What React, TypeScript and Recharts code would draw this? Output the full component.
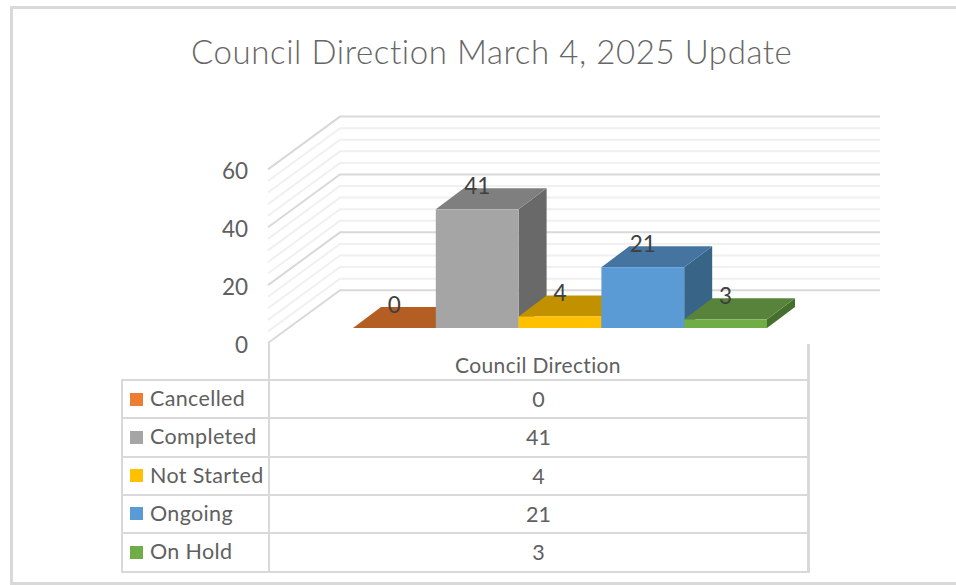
import { BarChart, Bar, XAxis, YAxis, CartesianGrid, LabelList } from 'recharts';

const category = 'Council Direction';
const seriesNames = ['Cancelled', 'Completed', 'Not Started', 'Ongoing', 'On Hold'];
const seriesValues = [0, 41, 4, 21, 3];
const frontColors = ['#ed7d31', '#a5a5a5', '#ffc000', '#5b9bd5', '#70ad47'];
const topColors = ['#b55e23', '#7f7f7f', '#c19100', '#44749f', '#57833a'];
const sideColors = ['#8f4a1c', '#696969', '#9c7600', '#386488', '#466f2e'];
const gridTicks = [0, 4, 8, 12, 16, 20, 24, 28, 32, 36, 40, 44, 48, 52, 56, 60];
const labelledTicks = [0, 20, 40, 60];

const chartData = [
  Object.fromEntries([['category', category], ...seriesNames.map((n, i) => [n, seriesValues[i]])]),
];

const FONT = 'Lato, sans-serif';
const TEXT = '#606060';
const LINE = '#d9d9d9';

// fake 3D: floor depth of the walls and of the bars
const WALL_DX = 71;
const WALL_DY = 52.8;
const BACK_RIGHT = 880;
const BAR_DX = 28;
const BAR_DY = 21;
const BAR_LIFT = 15;
const AXIS_X = 269;

function WallLine(props: any) {
  const { y1, index } = props;
  const major = index % 5 === 0;
  const backX = AXIS_X + WALL_DX;
  const backY = y1 - WALL_DY;
  return (
    <polyline
      key={index}
      points={`${AXIS_X - 1},${y1} ${backX},${backY} ${BACK_RIGHT},${backY}`}
      fill="none"
      stroke={major ? LINE : '#f0f0f0'}
      strokeWidth={2}
    />
  );
}

function ValueTick(props: any) {
  const { x, y, payload } = props;
  if (!labelledTicks.includes(payload.value)) return <g />;
  return (
    <text x={x - 21} y={y + 10} textAnchor="end" fontFamily={FONT} fontSize={22.5} fill={TEXT}>
      {payload.value}
    </text>
  );
}

function CategoryTick(props: any) {
  return (
    <text
      x={props.x - 22}
      y={373}
      textAnchor="middle"
      fontFamily={FONT}
      fontSize={21}
      letterSpacing={0.35}
      fill={TEXT}
    >
      {props.payload.value}
    </text>
  );
}

function Box3D(props: any) {
  const { x, y, width, height, top, side, fill } = props;
  const t = y - BAR_LIFT;
  const h = Math.max(height, 0);
  const r = x + width;
  return (
    <g>
      <polygon
        points={`${r},${t} ${r + BAR_DX},${t - BAR_DY} ${r + BAR_DX},${t + h - BAR_DY} ${r},${t + h}`}
        fill={side}
      />
      <polygon
        points={`${x},${t} ${r},${t} ${r + BAR_DX},${t - BAR_DY} ${x + BAR_DX},${t - BAR_DY}`}
        fill={top}
      />
      <rect x={x} y={t} width={width} height={h} fill={fill} />
    </g>
  );
}

function DataTable() {
  const rowH = 38.3;
  const cell = { position: 'absolute' as const, fontFamily: FONT, fontSize: 21.5, color: TEXT, whiteSpace: 'nowrap' as const };
  const rule = { position: 'absolute' as const, background: LINE };
  return (
    <>
      <div style={{ ...rule, left: 268, top: 343, width: 2, height: 229 }} />
      <div style={{ ...rule, left: 807, top: 344, width: 2.5, height: 229 }} />
      <div style={{ ...rule, left: 121, top: 380, width: 2, height: 192 }} />
      {seriesNames.map((name, i) => (
        <div key={name}>
          <div style={{ ...rule, left: 121, top: 379 + i * rowH, width: 688, height: 2 }} />
          <div
            style={{
              position: 'absolute',
              left: 130,
              top: 392.5 + i * rowH,
              width: 13,
              height: 13,
              background: frontColors[i],
            }}
          />
          <div style={{ ...cell, left: 150, top: 385 + i * rowH, letterSpacing: 0.35 }}>{name}</div>
          <div style={{ ...cell, left: 270, width: 537, textAlign: 'center', top: 386 + i * rowH }}>
            {seriesValues[i]}
          </div>
        </div>
      ))}
      <div style={{ ...rule, left: 121, top: 571, width: 688, height: 2 }} />
    </>
  );
}

export default function App() {
  return (
    <div style={{ position: 'absolute', left: 0, top: 0, width: 956, height: 585, background: '#fff', overflow: 'hidden' }}>
      <div style={{ position: 'absolute', left: 10, top: 6, width: 946, height: 2.5, background: LINE }} />
      <div style={{ position: 'absolute', left: 10, top: 582, width: 946, height: 2.5, background: LINE }} />
      <div style={{ position: 'absolute', left: 10, top: 6, width: 2.5, height: 578, background: LINE }} />
      <div
        style={{
          position: 'absolute',
          left: 191,
          top: 31,
          whiteSpace: 'nowrap',
          fontFamily: FONT,
          fontWeight: 300,
          fontSize: 33,
          letterSpacing: 0.58,
          color: '#666666',
        }}
      >
        Council Direction March 4, 2025 Update
      </div>
      <div style={{ position: 'absolute', left: 0, top: 0 }}>
        <BarChart
          width={956}
          height={585}
          data={chartData}
          margin={{ top: 169.4, right: 105, bottom: 241, left: 0 }}
          barSize={82.8}
          barGap={0}
        >
          <CartesianGrid vertical={false} horizontal={WallLine} />
          <XAxis dataKey="category" axisLine={false} tickLine={false} height={1} tick={<CategoryTick />} />
          <YAxis
            width={AXIS_X}
            domain={[0, 60]}
            ticks={gridTicks}
            interval={0}
            axisLine={false}
            tickLine={false}
            tickSize={0}
            tickMargin={0}
            tick={<ValueTick />}
          />
          {seriesNames.map((name, i) => (
            <Bar
              key={name}
              dataKey={name}
              isAnimationActive={false}
              fill={frontColors[i]}
              shape={<Box3D top={topColors[i]} side={sideColors[i]} />}
            >
              <LabelList
                dataKey={name}
                position="top"
                offset={30}
                fontFamily={FONT}
                fontSize={22.5}
                fill="#404040"
              />
            </Bar>
          ))}
        </BarChart>
      </div>
      <DataTable />
    </div>
  );
}
